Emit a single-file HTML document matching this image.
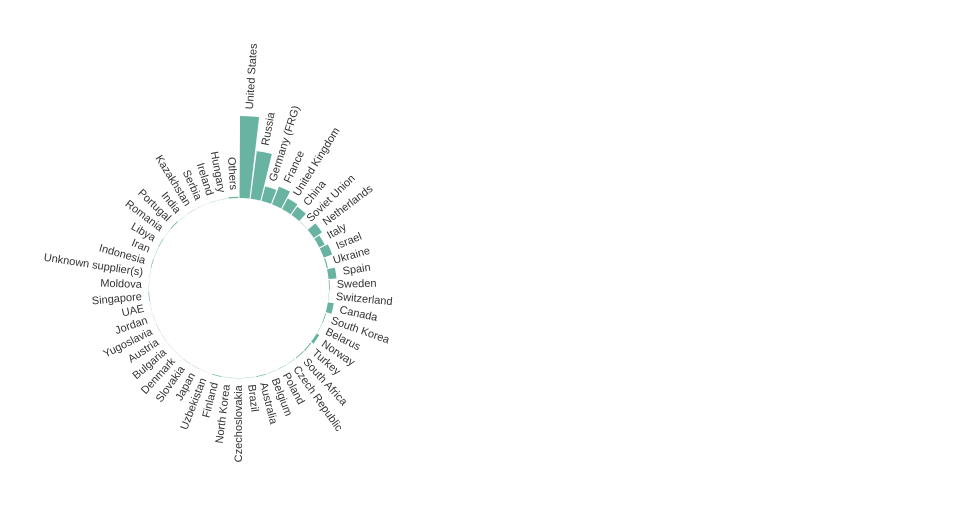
<!DOCTYPE html>
<html><head><meta charset="utf-8"><style>
html,body{margin:0;padding:0;background:#fff}
svg text{font-family:"Liberation Sans",sans-serif;font-size:11px;fill:#333}
</style></head><body>
<svg id="chart" width="960" height="500" xmlns="http://www.w3.org/2000/svg"></svg>
<script>
const categories=["United States","Russia","Germany (FRG)","France","United Kingdom","China","Soviet Union","Netherlands","Italy","Israel","Ukraine","Spain","Sweden","Switzerland","Canada","South Korea","Belarus","Norway","Turkey","South Africa","Czech Republic","Poland","Belgium","Australia","Brazil","Czechoslovakia","North Korea","Finland","Uzbekistan","Japan","Slovakia","Denmark","Bulgaria","Austria","Yugoslavia","Jordan","UAE","Singapore","Moldova","Unknown supplier(s)","Indonesia","Iran","Libya","Romania","Portugal","India","Kazakhstan","Serbia","Ireland","Hungary","Others"];
const values=[82,48,15,19,12,10,0.3,10,6,9,1.2,8,0.8,0.3,6,0.8,0.3,3,1,0.8,0.3,0.3,0.3,0.6,0.3,0.3,0.3,0.6,0.2,0.2,0.3,0.2,0.2,0.2,0.3,0.2,0.2,0.6,0.2,0.2,0.6,0.3,0.6,0.2,0.8,0.2,0.2,0.2,0.2,0.2,1.2];
const cx=239,cy=288,r0=90;
const svg=document.getElementById('chart');
const NS='http://www.w3.org/2000/svg';
const n=categories.length,w=360/n;
function rad(v){return r0+v;}
function pt(r,a){const t=a*Math.PI/180;return [cx+r*Math.sin(t),cy-r*Math.cos(t)];}
categories.forEach((c,i)=>{
  const a0=i*w+0.35,a1=(i+1)*w-0.35,r1=rad(values[i]);
  const p1=pt(r0,a0),p2=pt(r1,a0),p3=pt(r1,a1),p4=pt(r0,a1);
  const path=document.createElementNS(NS,'path');
  path.setAttribute('d',`M${p1}L${p2}A${r1},${r1} 0 0 1 ${p3}L${p4}A${r0},${r0} 0 0 0 ${p1}Z`);
  path.setAttribute('fill','#69b3a2');
  
  
  svg.appendChild(path);
  const am=(i+0.5)*w,lr=r1+7,p=pt(lr,am);
  const t=document.createElementNS(NS,'text');
  t.textContent=c;
  t.setAttribute('x',p[0]);t.setAttribute('y',p[1]);
  t.setAttribute('dominant-baseline','middle');
  if(am<180){t.setAttribute('text-anchor','start');t.setAttribute('transform',`rotate(${am-90} ${p[0]} ${p[1]})`);}
  else{t.setAttribute('text-anchor','end');t.setAttribute('transform',`rotate(${am+90} ${p[0]} ${p[1]})`);}
  
  
  svg.appendChild(t);
});
</script>
</body></html>
